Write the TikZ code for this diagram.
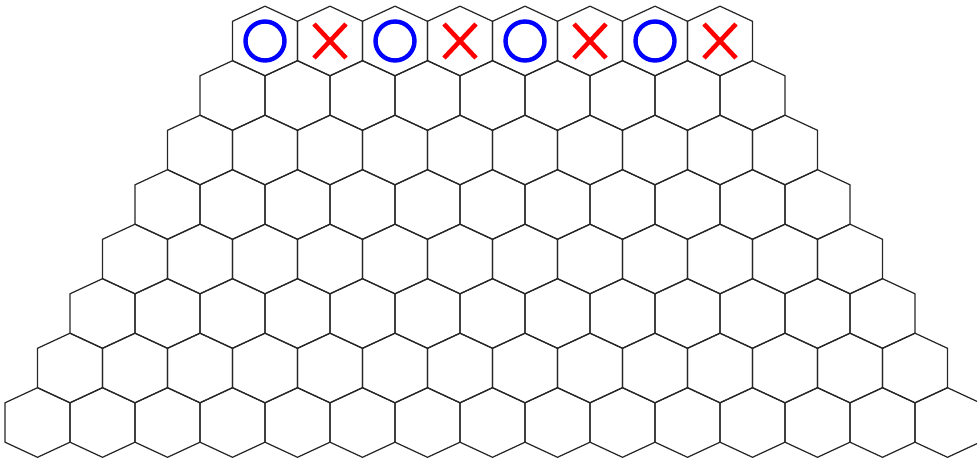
\documentclass[tikz,border=0pt]{standalone}
\usepackage{tikz}
\definecolor{MarkBlue}{RGB}{0,0,255}
\definecolor{MarkRed}{RGB}{255,0,0}

\begin{document}
\begin{tikzpicture}[
        x=0.02cm,y=-0.02cm,
        cell/.style={draw=black!85,line width=0.7pt,line join=round},
        ring/.style={draw=MarkBlue,line width=2.5pt},
        cross/.style={draw=MarkRed,line width=2.6pt}
      ]
        \useasboundingbox (0,0) rectangle (977,462);
        % rows grow by one cell each, shifted half a cell left
        \foreach \r in {0,...,7}{
          \pgfmathtruncatemacro\last{7+\r}
          \foreach \c in {0,...,\last}{
            \coordinate (h-\r-\c) at (265-32.5*\r+65*\c,41+54.5*\r);
            \draw[cell] (h-\r-\c) +(0,-34.8) -- +(32.5,-19.7) -- +(32.5,19.7)
              -- +(0,34.8) -- +(-32.5,19.7) -- +(-32.5,-19.7) -- cycle;
          }
        }
        % marks in the top row
        \foreach \c in {0,2,4,6}
          \draw[ring] (h-0-\c) circle[radius=19.5];
        \foreach \c in {1,3,5,7}
          \draw[cross] (h-0-\c) +(-16,-17) -- +(16,17)
                       (h-0-\c) +(-16,17) -- +(16,-17);
      \end{tikzpicture}
\end{document}
